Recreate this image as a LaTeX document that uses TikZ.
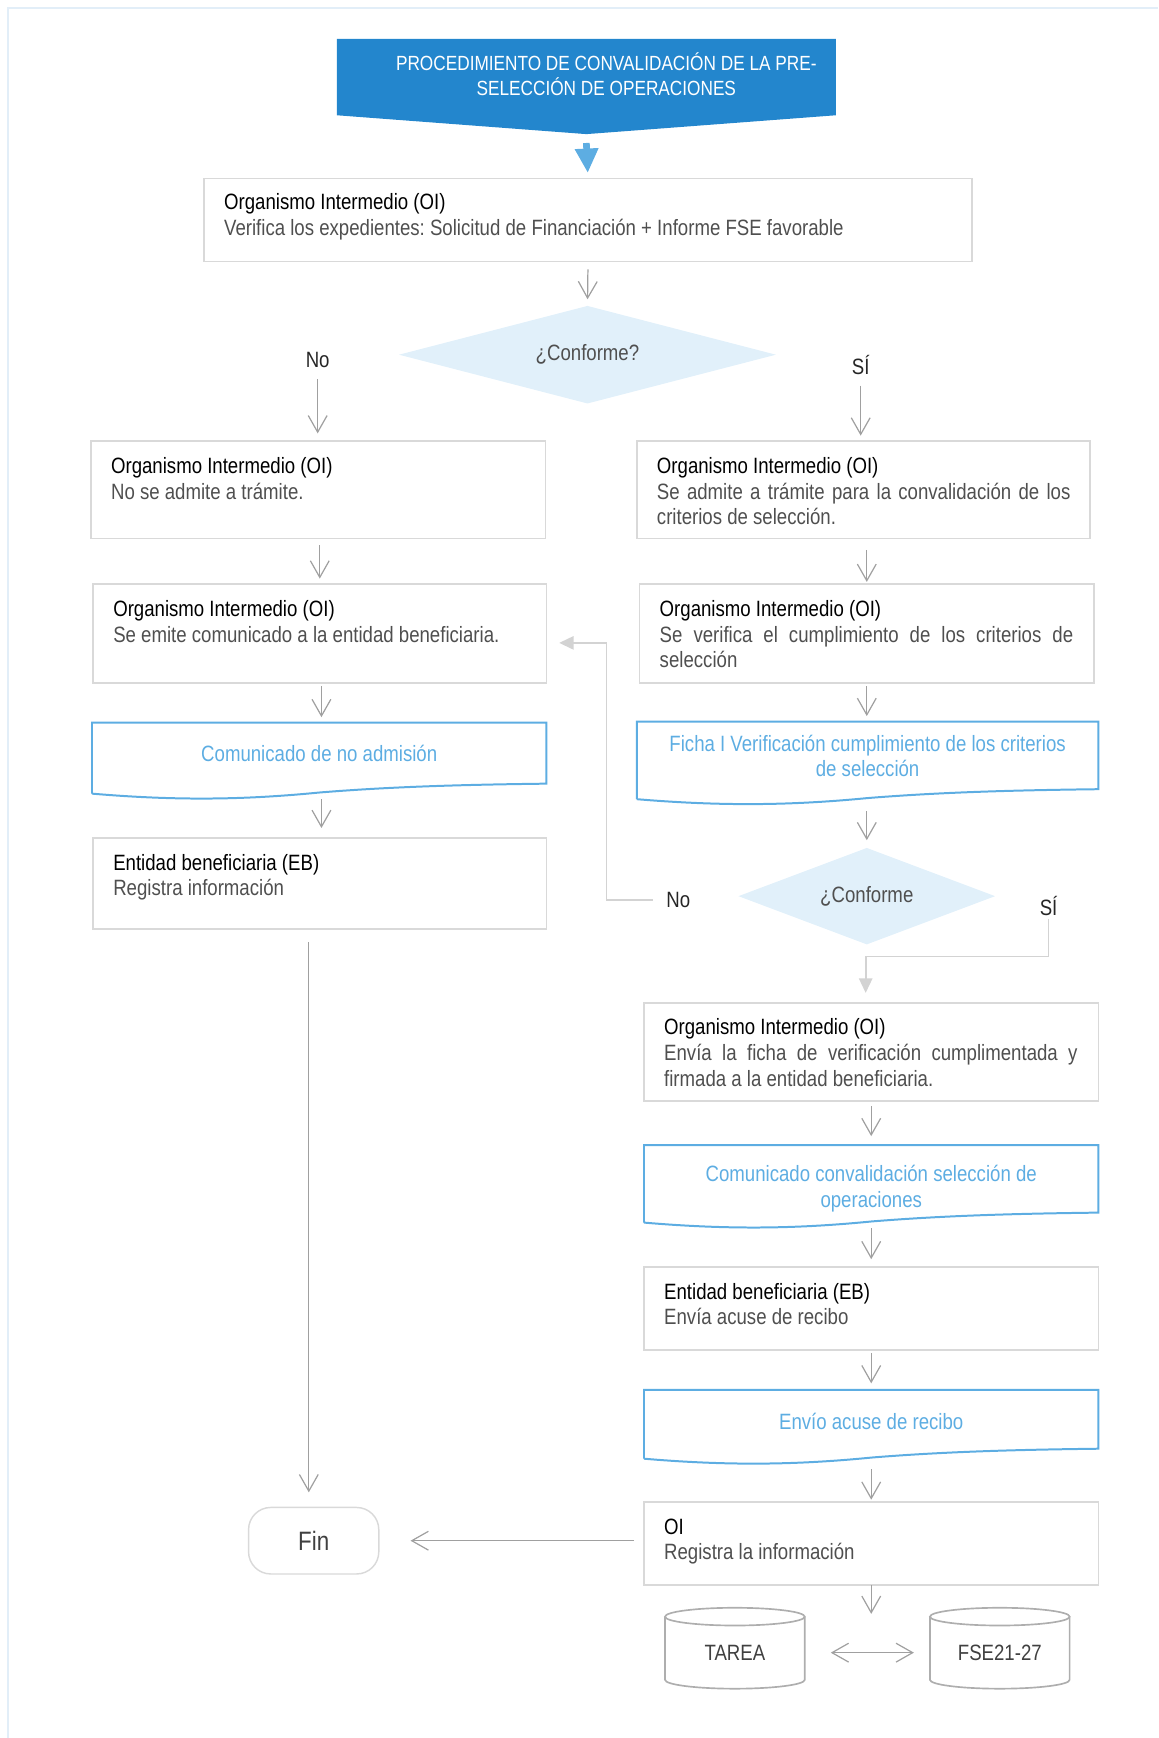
\documentclass[tikz,border=0pt]{standalone}
\usepackage{fontspec}
\setmainfont{Liberation Sans}[FakeStretch=0.84]
\usetikzlibrary{arrows.meta,positioning,calc,shapes.geometric}

\definecolor{titleblue}{HTML}{2386CD}
\definecolor{tipblue}{HTML}{5DADE2}
\definecolor{docblue}{HTML}{5DADE2}
\definecolor{boxgray}{HTML}{D9D9D9}
\definecolor{arrgray}{HTML}{A0A0A0}
\definecolor{backgray}{HTML}{D3D3D3}
\definecolor{diafill}{HTML}{E1F0FA}
\definecolor{framecol}{HTML}{E2EEF8}
\definecolor{bodytext}{HTML}{4F4F4F}

\tikzset{
  every node/.style={font=\fontsize{20}{23.3}\selectfont},
  proc/.style={draw=boxgray, line width=1.3pt, minimum width=410pt, outer sep=0pt, inner sep=0pt},
  proctext/.style={anchor=base west, inner sep=0pt, text=bodytext, text width=373pt, align=flush left},
  doc/.style={inner sep=0pt, outer sep=0pt, minimum width=410pt},
  doctext/.style={inner sep=0pt, text=docblue, align=center},
  docline/.style={draw=docblue, line width=1.8pt},
  decision/.style={diamond, fill=diafill, inner sep=0pt, outer sep=0pt, text=bodytext},
  answer/.style={inner sep=0pt, text=black!85},
  arr/.style={draw=arrgray, line width=1.1pt, -{Straight Barb[length=15pt,width=17pt]}},
  back/.style={draw=backgray, line width=1.5pt, -{Triangle[length=13pt,width=12pt]}},
  dbline/.style={draw=arrgray!85, line width=1.5pt},
}

% documento con borde ondulado
\newcommand{\docframe}[1]{%
  \draw[docline] ($(#1.south west)+(0,-4)$) -- (#1.north west) -- (#1.north east)
    -- ($(#1.south east)+(0,-13)$)
    .. controls ($(#1.south west)!0.8!(#1.south east)+(0,-12)$) and ($(#1.south west)!0.65!(#1.south east)+(0,-10)$)
    .. ($(#1.south west)!0.5!(#1.south east)+(0,-5)$)
    .. controls ($(#1.south west)!0.35!(#1.south east)+(0,1)$) and ($(#1.south west)!0.2!(#1.south east)+(0,3)$)
    .. ($(#1.south west)+(0,-4)$);}

% base de datos
\newcommand{\dbcyl}[1]{%
  \draw[dbline] ($(#1)+(-63,-32.5)$) -- ($(#1)+(-63,24.5)$)
    arc[start angle=180, end angle=360, x radius=63pt, y radius=8pt] -- ($(#1)+(63,-32.5)$);
  \draw[dbline] ($(#1)+(0,-32.5)$) ellipse[x radius=63pt, y radius=8pt];}

\begin{document}
\frenchspacing
\begin{tikzpicture}[x=1pt,y=-1pt]
  \useasboundingbox (0,0) rectangle (1045,1568);
  % marco
  \draw[framecol, line width=1.5pt] (7,1568) -- (7,7) -- (1045,7);

  % titulo
  \fill[titleblue] (304,35) -- (754,35) -- (754,104) -- (529,121) -- (304,104) -- cycle;
  \node[text=white, align=center, inner sep=0pt, font=\fontsize{18.5}{23}\selectfont] (title) at (547,67)
    {PROCEDIMIENTO DE CONVALIDACIÓN DE LA PRE-\\SELECCIÓN DE OPERACIONES};
  \coordinate (start) at (529,129);

  % columna superior
  \node[proc, minimum width=693pt, minimum height=75pt] (verif) at (530.5,198.5) {};
  \node[proctext, text width=657pt] (verift) at ($(verif.north west)+(18,28)$)
    {\textcolor{black}{Organismo Intermedio (OI)}\\Verifica los expedientes: Solicitud de Financiación + Informe FSE favorable};
  \draw[tipblue, line width=6pt, shorten >=5pt, -{Triangle[length=22pt,width=20pt]}] (start) -- (verif.north);

  \node[decision, aspect=3.86, minimum width=340pt, minimum height=88pt] (conf1) at (530,320) {¿Conforme?};
  \node[answer] (no1) at (286.6,325) {No};
  \node[answer] (si1) at (776.5,329) {SÍ};

  % rama izquierda
  \node[proc, minimum height=88pt] (noadm) at (287,442) {};
  \node[proctext] (noadmt) at ($(noadm.north west)+(18,29)$)
    {\textcolor{black}{Organismo Intermedio (OI)}\\No se admite a trámite.};
  \node[proc, minimum width=409pt, minimum height=89pt] (emite) at (288.5,571.5) {};
  \node[proctext] (emitet) at ($(emite.north west)+(18,29)$)
    {\textcolor{black}{Organismo Intermedio (OI)}\\Se emite comunicado a la entidad beneficiaria.};
  \node[doc, minimum height=68pt] (comno) at (288,686) {};
  \docframe{comno}
  \node[doctext] (comnot) at ($(comno.north)+(0,28)$) {Comunicado de no admisión};
  \node[proc, minimum width=409pt, minimum height=82pt] (ebreg) at (288.5,797) {};
  \node[proctext] (ebregt) at ($(ebreg.north west)+(18,29)$)
    {\textcolor{black}{Entidad beneficiaria (EB)}\\Registra información};

  % rama derecha
  \node[proc, minimum width=409pt, minimum height=88pt] (admite) at (779,442) {};
  \node[proctext, align=justify] (admitet) at ($(admite.north west)+(18,29)$)
    {\textcolor{black}{Organismo Intermedio (OI)}\\Se admite a trámite para la convalidación de los\linebreak criterios de selección.};
  \node[proc, minimum height=89pt] (cumpl) at (782,571.5) {};
  \node[proctext, align=justify] (cumplt) at ($(cumpl.north west)+(18,29)$)
    {\textcolor{black}{Organismo Intermedio (OI)}\\Se verifica el cumplimiento de los criterios de\linebreak selección};
  \node[doc, minimum width=416.5pt, minimum height=74pt] (ficha) at (782.75,688) {};
  \docframe{ficha}
  \node[doctext] (fichat) at ($(ficha.north)+(0,31)$)
    {Ficha I Verificación cumplimiento de los criterios\\de selección};
  \node[decision, aspect=2.66, minimum width=231.5pt, minimum height=87pt] (conf2) at (782,808.5) {¿Conforme};
  \node[answer] (no2) at (612,812) {No};
  \node[answer] (si2) at (946,817) {SÍ};

  \node[proc, minimum height=88.5pt] (envia) at (786,949) {};
  \node[proctext, align=justify] (enviat) at ($(envia.north west)+(18,29)$)
    {\textcolor{black}{Organismo Intermedio (OI)}\\Envía la ficha de verificación cumplimentada y\linebreak firmada a la entidad beneficiaria.};
  \node[doc, minimum height=74pt] (comconv) at (786,1070) {};
  \docframe{comconv}
  \node[doctext] (comconvt) at ($(comconv.north)+(0,39)$)
    {Comunicado convalidación selección de\\operaciones};
  \node[proc, minimum height=75pt] (acuse) at (786,1180.5) {};
  \node[proctext] (acuset) at ($(acuse.north west)+(18,29)$)
    {\textcolor{black}{Entidad beneficiaria (EB)}\\Envía acuse de recibo};
  \node[doc, minimum height=66pt] (envacuse) at (786,1287) {};
  \docframe{envacuse}
  \node[doctext] (envacuset) at ($(envacuse.north)+(0,28)$) {Envío acuse de recibo};
  \node[proc, minimum height=75pt] (oireg) at (786,1392.5) {};
  \node[proctext] (oiregt) at ($(oireg.north west)+(18,29)$)
    {\textcolor{black}{OI}\\Registra la información};

  % fin y bases de datos
  \node[draw=boxgray, line width=1.3pt, rounded corners=20pt, minimum width=117.5pt,
        minimum height=60pt, font=\fontsize{24}{28}\selectfont, text=black!75] (fin) at (283,1390) {Fin};
  \node[text=black!75, inner sep=0pt] (tarea) at (663,1491) {TAREA};
  \dbcyl{tarea}
  \node[text=black!75, inner sep=0pt] (fse) at (902,1491) {FSE21-27};
  \dbcyl{fse}
  \coordinate (dbin) at (786,1456);

  % conectores
  \draw[arr, shorten <=7pt, shorten >=6pt] (verif.south) -- (conf1.north);
  \draw[arr, shorten <=10pt, shorten >=7pt] (no1.south) -- (no1.south |- noadm.north);
  \draw[arr, shorten <=10pt, shorten >=5pt] (si1.south) -- (si1.south |- admite.north);
  \draw[arr, shorten <=6pt, shorten >=5pt] (emite.north |- noadm.south) -- (emite.north);
  \draw[arr, shorten <=10pt, shorten >=2pt] (cumpl.north |- admite.south) -- (cumpl.north);
  \draw[arr, shorten <=3pt, shorten >=5pt] ([xshift=1.5pt]emite.south) -- ([xshift=1.5pt]emite.south |- comno.north);
  \draw[arr, shorten <=3pt, shorten >=5pt] (cumpl.south) -- (cumpl.south |- ficha.north);
  \draw[arr, shorten <=1pt, shorten >=9pt] ([xshift=1.5pt]ebreg.north |- comno.south) -- ([xshift=1.5pt]ebreg.north);
  \draw[arr, shorten <=7pt, shorten >=7pt] (conf2.north |- ficha.south) -- (conf2.north);
  \draw[back, shorten <=12pt, shorten >=11.5pt] (no2.west) -- ++(-54,0) |- ([yshift=-8.5pt]emite.east);
  \draw[back, shorten <=3pt, shorten >=9pt] (si2.south) -- ++(0,37) -| ([xshift=-5pt]envia.north);
  \draw[arr, shorten <=5pt, shorten >=8pt] (envia.south) -- (comconv.north);
  \draw[arr, shorten <=1pt, shorten >=7pt] (comconv.south) -- (acuse.north);
  \draw[arr, shorten <=2.5pt, shorten >=6pt] (acuse.south) -- (envacuse.north);
  \draw[arr, shorten <=5.5pt, shorten >=2pt] (envacuse.south) -- (oireg.north);
  \draw[arr, shorten <=12pt, shorten >=13pt] ([xshift=-4.4pt]fin.north |- ebreg.south) -- ([xshift=-4.4pt]fin.north);
  \draw[arr, shorten <=9pt, shorten >=28pt] (fin.east -| oireg.west) -- (fin.east);
  \draw[arr] (oireg.south) -- (dbin);
  \draw[arr, {Straight Barb[length=15pt,width=17pt]}-{Straight Barb[length=15pt,width=17pt]}, shorten <=23.5pt, shorten >=14.5pt]
    ([xshift=63pt]tarea.center) -- ([xshift=-63pt]fse.center);
\end{tikzpicture}
\end{document}
